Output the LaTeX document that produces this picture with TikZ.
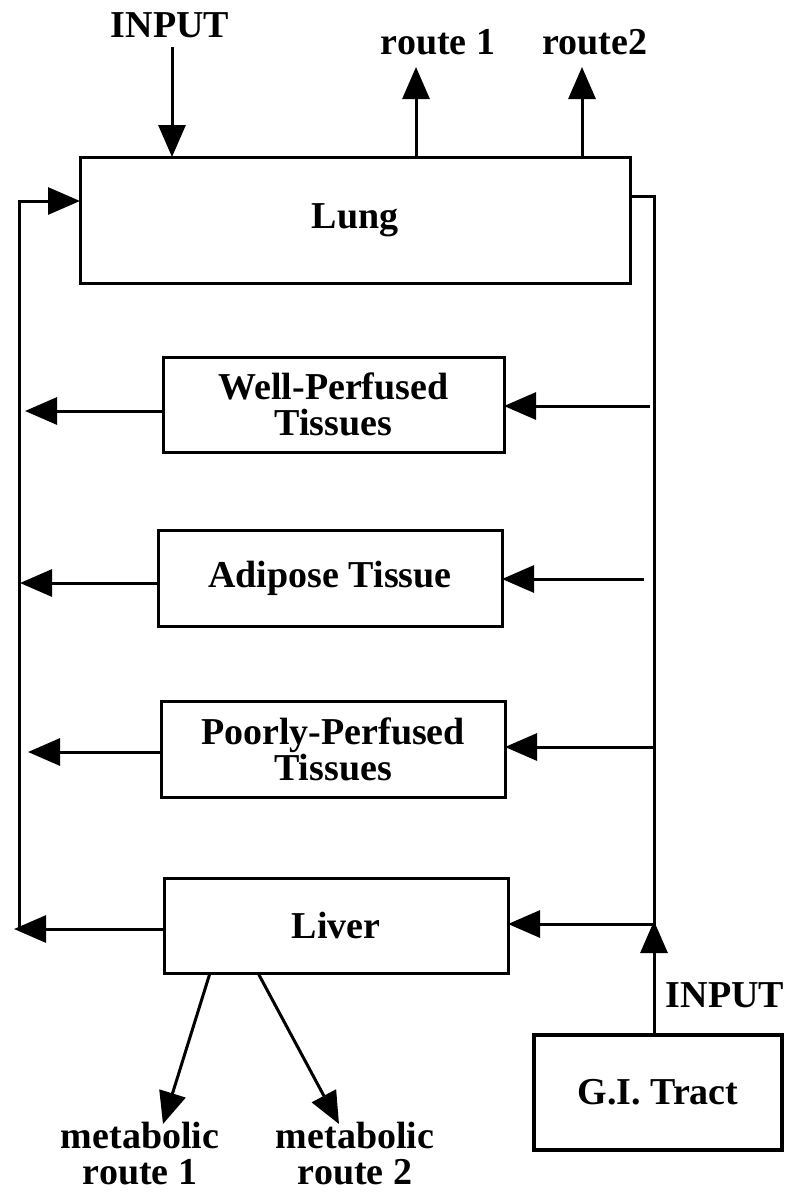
\documentclass[tikz,border=0pt]{standalone}
\usepackage{fontspec}
\setmainfont{Liberation Serif}
\usetikzlibrary{arrows.meta}
\begin{document}
\begin{tikzpicture}[x=1pt,y=-1pt,
  box/.style={draw,line width=3pt,rectangle,inner sep=0pt,outer sep=0pt,align=center},
  lbl/.style={inner sep=0pt,align=center},
  conn/.style={line width=3pt},
  arr/.style={line width=3pt,-{Triangle[length=32pt,width=27pt]}},
  font=\fontsize{38}{36}\selectfont\bfseries]
\useasboundingbox (0,0) rectangle (785,1197);
\fill[white] (0,0) rectangle (785,1197);
% boxes
\node[box,minimum width=550pt,minimum height=126pt] (lung) at (355,220) {Lung};
\node[box,minimum width=341pt,minimum height=95pt] (wp) at (333.5,404.5) {Well-Perfused\\Tissues};
\node[box,minimum width=344pt,minimum height=96pt] (adi) at (330,578) {Adipose Tissue};
\node[box,minimum width=344pt,minimum height=96pt] (pp) at (333,749) {Poorly-Perfused\\Tissues};
\node[box,minimum width=344pt,minimum height=95pt] (liver) at (336,925.5) {Liver};
\node[box,line width=4.5pt,minimum width=248pt,minimum height=115pt] (gi) at (658,1092.5) {G.I. Tract};
% labels
\node[lbl] (inLbl) at (170,25) {INPUT};
\node[lbl] (r1Lbl) at (438,42) {route 1};
\node[lbl] (r2Lbl) at (595,42) {route2};
\node[lbl] (giLbl) at (725,995) {INPUT};
\node[lbl] (m1Lbl) at (140,1154) {metabolic\\route 1};
\node[lbl] (m2Lbl) at (355,1154) {metabolic\\route 2};
% top connectors
\coordinate (inTop) at (172,47);
\draw[arr] (inTop) -- (inTop |- lung.north);
\coordinate (r1) at (416,67);
\draw[arr] (r1 |- lung.north) -- (r1);
\coordinate (r2) at (582,67);
\draw[arr] (r2 |- lung.north) -- (r2);
% right trunk
\coordinate (rt) at (654,196);
\coordinate (rb) at (654,925);
\draw[conn] (lung.east |- rt) -- (rt) -- (rb);
% left trunk
\coordinate (lb) at (19,929);
\coordinate (lt) at (19,201);
\draw[arr] (lb) -- (lt) -- (lung.west |- lt);
% well-perfused
\coordinate (wpIn) at (650,406);
\coordinate (wpOut) at (25,411);
\draw[arr] (wpIn) -- (wp.east |- wpIn);
\draw[arr] (wp.west |- wpOut) -- (wpOut);
% adipose
\coordinate (adiIn) at (644,579);
\coordinate (adiOut) at (20,583);
\draw[arr] (adiIn) -- (adi.east |- adiIn);
\draw[arr] (adi.west |- adiOut) -- (adiOut);
% poorly-perfused
\coordinate (ppIn) at (654,747);
\coordinate (ppOut) at (28,752);
\draw[arr] (ppIn) -- (pp.east |- ppIn);
\draw[arr] (pp.west |- ppOut) -- (ppOut);
% liver
\coordinate (lvIn) at (654,924);
\coordinate (lvOut) at (14,929);
\draw[arr] (lvIn) -- (liver.east |- lvIn);
\draw[arr] (liver.west |- lvOut) -- (lvOut);
% GI tract
\coordinate (giTip) at (654,921);
\draw[arr] (giTip |- gi.north) -- (giTip);
% metabolic routes
\coordinate (m1) at (163,1124);
\coordinate (m2) at (339,1124);
\draw[arr] ([xshift=-126pt]liver.south) -- (m1);
\draw[arr] ([xshift=-78pt]liver.south) -- (m2);
\end{tikzpicture}
\end{document}
